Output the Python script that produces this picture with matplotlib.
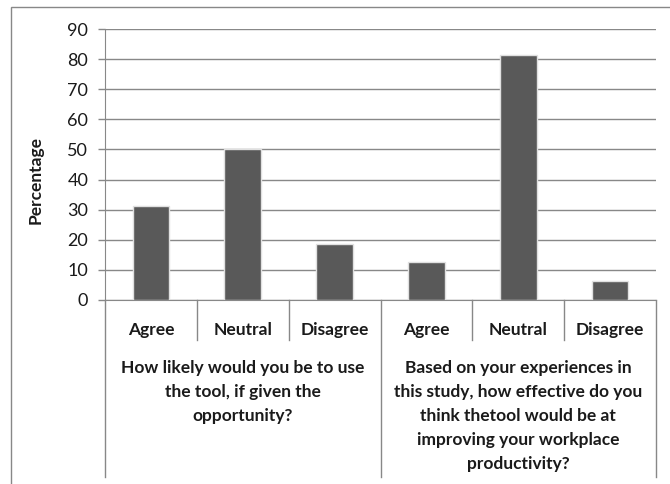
import matplotlib.pyplot as plt
from matplotlib.patches import Rectangle

# data
answers = ["Agree", "Neutral", "Disagree", "Agree", "Neutral", "Disagree"]
values = [31.25, 50, 18.75, 12.5, 81.25, 6.25]
questions = [
    "How likely would you be to use\nthe tool, if given the\nopportunity?",
    "Based on your experiences in\nthis study, how effective do you\nthink thetool would be at\nimproving your workplace\nproductivity?",
]
y_ticks = list(range(0, 100, 10))

W, H = 670, 484
fig = plt.figure(figsize=(W / 100, H / 100), dpi=100)
plt.rcParams['font.family'] = ['Lato', 'DejaVu Sans']

# plot area in pixels
left, right, top, bottom = 105, 656, 29, 300
ax = fig.add_axes([left / W, 1 - bottom / H, (right - left) / W, (bottom - top) / H])
ph = bottom - top

grid_c = '#888888'
txt_c = '#1a1a1a'
fs = 12.5

x = list(range(len(values)))
ax.bar(x, values, width=0.4, color='#595959', edgecolor='#e0e0e0', linewidth=1, zorder=3)

ax.set_xlim(-0.5, len(values) - 0.5)
ax.set_ylim(0, 90)
ax.set_yticks(y_ticks)
ax.set_yticklabels([str(t) for t in y_ticks], fontsize=13, color=txt_c)
ax.yaxis.grid(True, color=grid_c, linewidth=1)
ax.set_axisbelow(True)
ax.tick_params(axis='y', length=5, width=1, color=grid_c, pad=7)
ax.tick_params(axis='x', length=0)
ax.set_xticks([])
for s in ['top', 'right']:
    ax.spines[s].set_visible(False)
ax.spines['left'].set_color(grid_c)
ax.spines['bottom'].set_color(grid_c)
ax.set_ylabel("Percentage", fontsize=fs, fontweight='bold', color=txt_c)
ax.yaxis.set_label_coords((44 - left) / (right - left), (bottom - 180) / ph)

# multi-level category axis
tr = ax.get_xaxis_transform()
short = -40 / ph
long_ = -177 / ph
for b in range(len(values) + 1):
    xb = b - 0.5
    depth = long_ if b % 3 == 0 else short
    ax.plot([xb, xb], [0, depth], color=grid_c, lw=1, transform=tr, clip_on=False)

for i, a in enumerate(answers):
    ax.text(i, -30 / ph, a, transform=tr, ha='center', va='center',
            fontsize=fs, fontweight='bold', color=txt_c)

for g, q in enumerate(questions):
    ax.text(g * 3 + 1, -60 / ph, q, transform=tr, ha='center', va='top',
            fontsize=fs, fontweight='bold', color=txt_c, linespacing=1.62)

# outer chart border
fig.add_artist(Rectangle((11 / W, -0.1), 1, 1.1 - 7 / H, transform=fig.transFigure,
                         fill=False, edgecolor='#888888', linewidth=1))

fig.savefig("out.png", dpi=100)
